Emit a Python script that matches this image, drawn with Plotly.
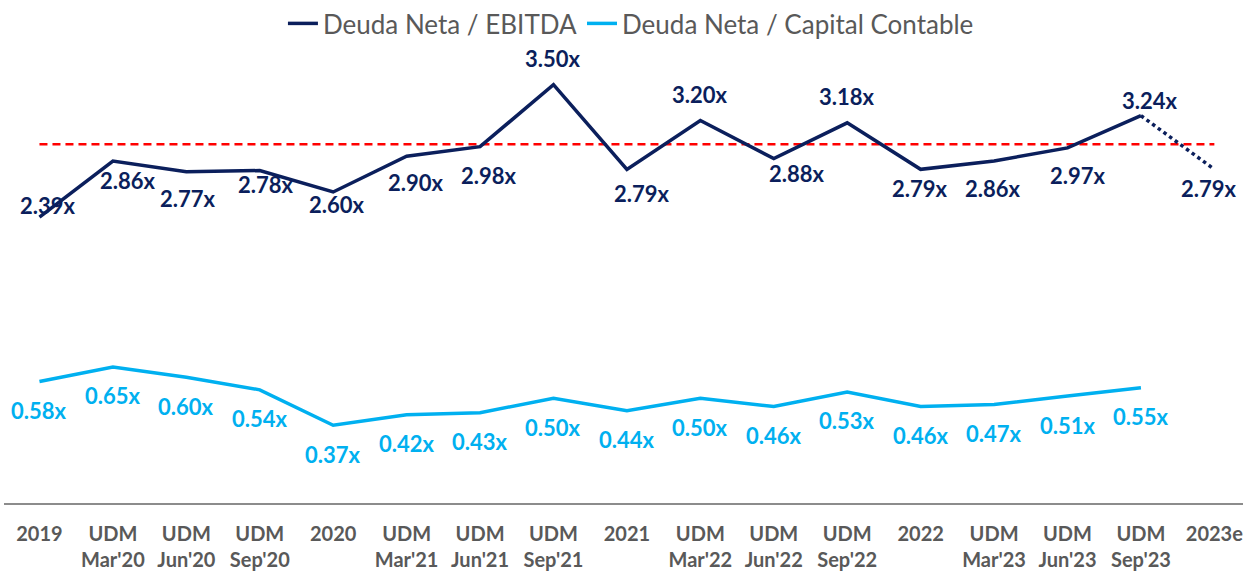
import plotly.graph_objects as go

categories = ["2019", "UDM<br>Mar'20", "UDM<br>Jun'20", "UDM<br>Sep'20", "2020",
              "UDM<br>Mar'21", "UDM<br>Jun'21", "UDM<br>Sep'21", "2021",
              "UDM<br>Mar'22", "UDM<br>Jun'22", "UDM<br>Sep'22", "2022",
              "UDM<br>Mar'23", "UDM<br>Jun'23", "UDM<br>Sep'23", "2023e"]
deuda_ebitda = [2.39, 2.86, 2.77, 2.78, 2.60, 2.90, 2.98, 3.50, 2.79,
                3.20, 2.88, 3.18, 2.79, 2.86, 2.97, 3.24, 2.79]
deuda_capital = [0.58, 0.65, 0.60, 0.54, 0.37, 0.42, 0.43, 0.50, 0.44,
                 0.50, 0.46, 0.53, 0.46, 0.47, 0.51, 0.55]
reference_level = 3.0
name_ebitda = "Deuda Neta / EBITDA"
name_capital = "Deuda Neta / Capital Contable"

# styling
NAVY = "#0B1F5C"
LIGHT = "#00B0F0"
RED = "#FF0000"
GRAY = "#595959"
FONT = "Lato"
# label offsets (dx right, dy down) in px for the navy series
navy_label_offsets = [(9, -12), (15, 19), (2, 27), (6, 14), (4, 12), (9, 26), (9, 29),
                      (0, -26), (15, 24), (0, -26), (23, 15), (0, -26), (-1, 19),
                      (-1, 27), (10, 28), (9, -15), (-5, 19)]
light_label_dy = 29

n_solid = len(deuda_capital)

fig = go.Figure()
fig.add_trace(go.Scatter(x=categories, y=[reference_level] * len(categories),
                         mode="lines", line=dict(color=RED, width=2.5, dash="8px,5px"),
                         showlegend=False, hoverinfo="skip"))
fig.add_trace(go.Scatter(x=categories[n_solid - 1:], y=deuda_ebitda[n_solid - 1:],
                         mode="lines", line=dict(color=NAVY, width=3.5, dash="dot"),
                         showlegend=False, hoverinfo="skip"))
fig.add_trace(go.Scatter(x=categories[:n_solid], y=deuda_ebitda[:n_solid],
                         mode="lines", name=name_ebitda,
                         line=dict(color=NAVY, width=3.5)))
fig.add_trace(go.Scatter(x=categories[:n_solid], y=deuda_capital,
                         mode="lines", name=name_capital, yaxis="y2",
                         line=dict(color=LIGHT, width=3.5)))

annotations = []
for i, v in enumerate(deuda_ebitda):
    dx, dy = navy_label_offsets[i]
    annotations.append(dict(x=i, y=v, xref="x", yref="y", text=f"<b>{v:.2f}x</b>",
                            showarrow=False, xshift=dx, yshift=-dy,
                            font=dict(family=FONT, size=22, color=NAVY)))
for i, v in enumerate(deuda_capital):
    annotations.append(dict(x=i, y=v, xref="x", yref="y2", text=f"<b>{v:.2f}x</b>",
                            showarrow=False, yshift=-light_label_dy,
                            font=dict(family=FONT, size=22, color=LIGHT)))

fig.update_layout(
    width=1243, height=571,
    margin=dict(l=4, r=0, t=45, b=64),
    paper_bgcolor="white", plot_bgcolor="white",
    font=dict(family=FONT, color=GRAY),
    showlegend=True,
    legend=dict(orientation="h", x=0.506, xanchor="center", y=1.0, yanchor="bottom",
                font=dict(family=FONT, size=26, color=GRAY),
                itemwidth=30, tracegroupgap=0),
    xaxis=dict(type="category", range=[-0.483, 16.39], showgrid=False, zeroline=False,
               showline=True, linecolor="#8C8C8C", linewidth=1.5, ticks="",
               ticklabelstandoff=12,
               tickfont=dict(family=FONT, size=20, color=GRAY, weight="bold")),
    yaxis=dict(range=[-0.008, 3.816], visible=False, showgrid=False, zeroline=False),
    yaxis2=dict(range=[-0.003, 2.185], overlaying="y", visible=False,
                showgrid=False, zeroline=False),
    annotations=annotations,
)

fig.write_html("out.html", config={"displayModeBar": False},
               post_script="document.body.style.margin='0';")
